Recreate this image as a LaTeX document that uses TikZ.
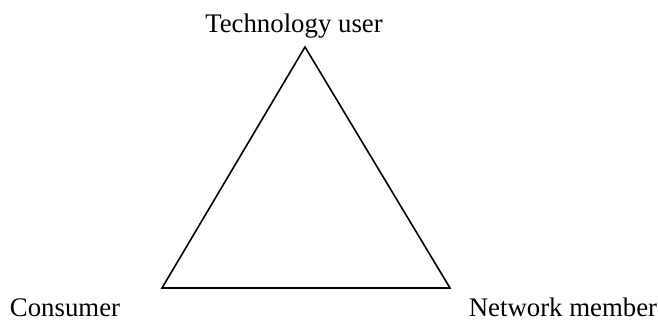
\documentclass[tikz,border=0pt]{standalone}
\usepackage{fontspec}
\setmainfont{Liberation Serif}

\def\roleApexX{305}
\def\roleApexY{47}
\def\roleBaseY{288}
\def\roleLeftX{162}
\def\roleRightX{450}

\begin{document}
\begin{tikzpicture}[x=0.5pt, y=-0.5pt,
    rolelabel/.style = {anchor = base, inner sep = 0pt,
        font = \fontsize{13.4}{16}\selectfont}]
            \useasboundingbox (0,0) rectangle (658,322);
            %% corners
            \draw
            (\roleApexX,\roleApexY) coordinate (top)
            (\roleLeftX,\roleBaseY) coordinate (left)
            (\roleRightX,\roleBaseY) coordinate (right)
            ;
            %% triangle
            \draw [line width = 0.8pt]
            (top) -- (left) -- (right) -- cycle
            ;
            %% labels
            \node [rolelabel] (user) at (294,32) {Technology user};
            \node [rolelabel] (consumer) at (65,316) {Consumer};
            \node [rolelabel] (member) at (563,316) {Network member};
\end{tikzpicture}
\end{document}
